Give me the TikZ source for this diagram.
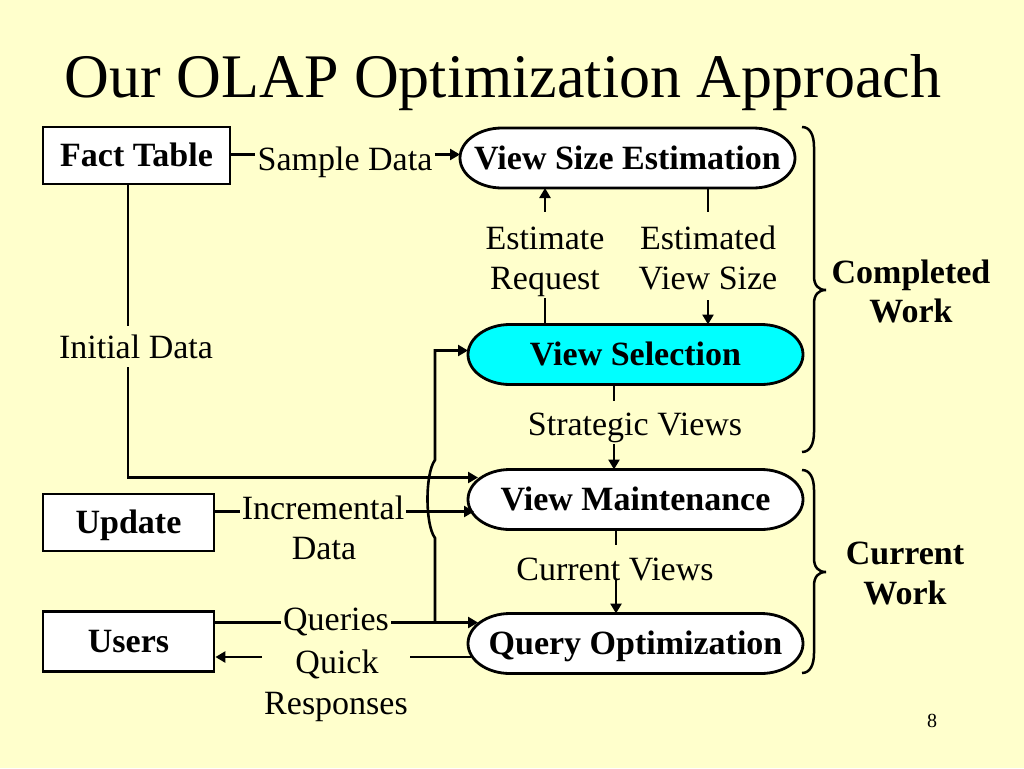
\documentclass[tikz,border=0pt]{standalone}
\usepackage{fontspec}
\setmainfont{Liberation Serif}
\usetikzlibrary{arrows.meta,backgrounds}
\definecolor{slidebg}{HTML}{FFFFCC}
\definecolor{vscyan}{HTML}{00FFFF}
\newcommand\bodyfont{\fontsize{34}{40}\selectfont}
\newcommand\stadiumoutline[2]{%
  \filldraw[line width=2.8pt, fill=#2]
    ([xshift=42pt]#1.north west) -- ([xshift=-42pt]#1.north east)
    arc[start angle=90, end angle=-90, x radius=42pt, y radius=30pt]
    -- ([xshift=42pt]#1.south west)
    arc[start angle=270, end angle=90, x radius=42pt, y radius=30pt] -- cycle;}
\begin{document}
\begin{tikzpicture}[x=1pt,y=-1pt,
  ln/.style={line width=2.6pt},
  ar/.style={ln,-{Triangle[length=10pt,width=11pt]}},
  box/.style={draw,line width=2.8pt,fill=white,rectangle,inner sep=0pt,text height=22pt,text depth=0pt,font=\bodyfont\bfseries},
  stad/.style={rectangle,inner sep=0pt,outer sep=0pt,minimum width=335pt,minimum height=60pt,text height=22pt,text depth=0pt,font=\bodyfont\bfseries},
  lbl/.style={anchor=base,inner sep=2pt,text height=22pt,text depth=7pt,font=\bodyfont},
  blbl/.style={lbl,font=\bodyfont\bfseries}]
\useasboundingbox (0,0) rectangle (1024,768);

% title
\node[anchor=base,font=\fontsize{62}{70}\selectfont] (title) at (503,97) {Our OLAP Optimization Approach};

% boxes
\node[box,minimum width=187pt,minimum height=57pt] (ft) at (136.5,155.5) {Fact Table};
\node[box,minimum width=171pt,minimum height=57pt] (up) at (128.5,522.5) {Update};
\node[box,minimum width=171pt,minimum height=60pt] (us) at (128.5,641.5) {Users};

% process nodes
\node[stad] (vse) at (627.5,158) {View Size Estimation};
\node[stad] (vs)  at (635.5,354.5) {View Selection};
\node[stad] (vm)  at (635.5,499.5) {View Maintenance};
\node[stad] (qo)  at (635.5,643.5) {Query Optimization};

\begin{scope}[on background layer]
  \fill[slidebg] (0,0) rectangle (1024,768);
  \stadiumoutline{vse}{white}
  \stadiumoutline{vs}{vscyan}
  \stadiumoutline{vm}{white}
  \stadiumoutline{qo}{white}
\end{scope}

% labels
\node[lbl] (sd)   at (345,170) {Sample Data};
\node[lbl] (er1)  at (545,249) {Estimate};
\node[lbl] (er2)  at (545,289) {Request};
\node[lbl] (evs1) at (708,249) {Estimated};
\node[lbl] (evs2) at (708,289) {View Size};
\node[lbl] (id)   at (136,358) {Initial Data};
\node[lbl] (sv)   at (635,435) {Strategic Views};
\node[lbl] (inc1) at (323,519) {Incremental};
\node[lbl] (inc2) at (324,559) {Data};
\node[lbl] (cv)   at (615,580) {Current Views};
\node[lbl] (q)    at (336,630) {Queries};
\node[lbl] (qk)   at (337,673) {Quick};
\node[lbl] (rs)   at (336,714) {Responses};
\node[blbl] (cw1) at (911,283) {Completed};
\node[blbl] (cw2) at (911,322) {Work};
\node[blbl] (cu1) at (905,564) {Current};
\node[blbl] (cu2) at (905,604) {Work};
\node[anchor=base,font=\fontsize{20}{24}\selectfont] (pg) at (932,727) {8};

% helper coordinates
\path ([yshift=1pt]ft.east) coordinate (sdl);
\path ([xshift=-21pt]sv.north) coordinate (svn);
\path ([xshift=-21pt]sv.south) coordinate (svs);
\path ([xshift=-8pt]id.north) coordinate (idn);
\path ([xshift=-8pt]id.south) coordinate (ids);
\path ([shift={(10,-22)}]vm.west) coordinate (vmtop);
\path ([xshift=6pt]vm.west) coordinate (vmw);
\path ([xshift=10pt]qo.west) coordinate (qow);
\path ([xshift=3pt]qo.west) coordinate (qow3);
\path ([yshift=4pt]vs.west) coordinate (vsw);
\path ([yshift=16pt]qk.base) coordinate (qkl);
\path ([xshift=1pt]cv.north) coordinate (cvn);
\path ([xshift=1pt]cv.base) coordinate (cvb);
\coordinate (jx) at (435,622.5);

% connectors
\draw[ln] (sdl) -- (sdl -| sd.west);
\draw[ar] (sd.east |- sdl) -- (vse.west |- sdl);

\draw[ar,shorten <=13pt] (er1.north) -- (er1.north |- vse.south);
\draw[ln] (er2.south) -- (er2.south |- vs.north);
\draw[ln,shorten >=13pt] (vse.south -| evs1.north) -- (evs1.north);
\draw[ar,shorten <=2pt] (evs2.south) -- (evs2.south |- vs.north);

\draw[ln,shorten >=10pt] (vs.south -| svn) -- (svn);
\draw[ar] (svs) -- (svs |- vm.north);

\draw[ln,shorten >=11pt] (vm.south -| cvn) -- (cvn);
\draw[ar] (cvb) -- (cvb |- qo.north);

\draw[ln,shorten >=8pt] (ft.south -| idn) -- (idn);
\draw[ar] (ids) |- (vmtop);

\draw[ln] (up.east |- inc1.west) -- (inc1.west);
\draw[ar] (inc1.east) -- (vmw |- inc1.east);

\draw[ln] (us.east |- q.west) -- (q.west);
\draw[ar] (q.east) -- (qow |- q.east);

\draw[ar] (jx) -- (435,538) .. controls (425,525) and (425,473) .. (435,460) -- (jx |- vsw) -- (vsw);

\draw[ln] (qow3 |- qkl) -- (rs.east |- qkl);
\draw[ar] (rs.west |- qkl) -- (us.east |- qkl);

% braces
\draw[line width=2.5pt] (802,127) .. controls (810,127) and (814,135) .. (814,147) -- (814,276)
  .. controls (814,285) and (818,290) .. (826,290) .. controls (818,290) and (814,295) .. (814,304)
  -- (814,432) .. controls (814,444) and (810,452) .. (802,452);
\draw[line width=2.5pt] (802,470) .. controls (810,470) and (814,478) .. (814,490) -- (814,558)
  .. controls (814,567) and (818,572) .. (826,572) .. controls (818,572) and (814,577) .. (814,586)
  -- (814,653) .. controls (814,665) and (810,673) .. (802,673);
\end{tikzpicture}
\end{document}
